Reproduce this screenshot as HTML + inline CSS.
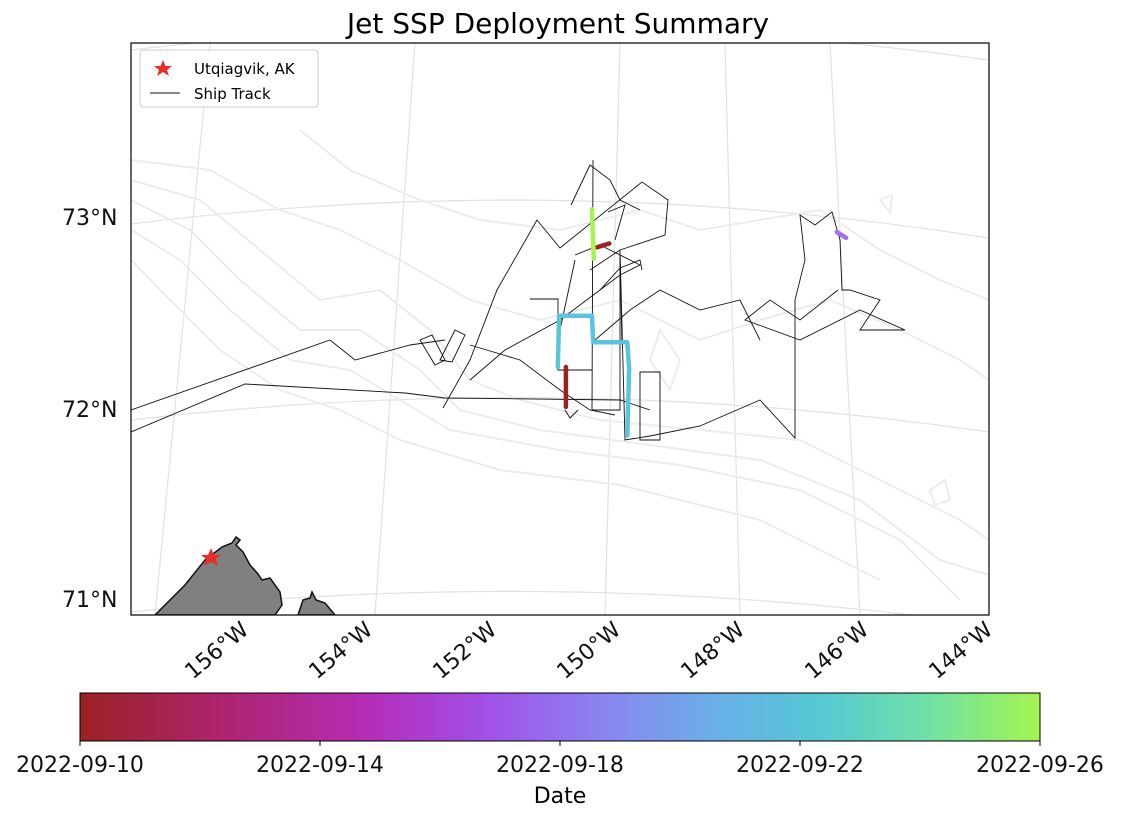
<!DOCTYPE html>
<html><head><meta charset="utf-8"><style>
body{margin:0;background:#fff;width:1121px;height:814px;overflow:hidden}
svg text{font-family:"DejaVu Sans","Liberation Sans",sans-serif}
</style></head><body>
<svg id="chart" width="1121" height="814" viewBox="0 0 1121 814">
<defs>
<clipPath id="clip"><rect x="131" y="43" width="858" height="572"/></clipPath>
<linearGradient id="cbar" x1="0" x2="1" y1="0" y2="0">
<stop offset="0" stop-color="#9a2222"/><stop offset="0.15" stop-color="#ae2470"/>
<stop offset="0.3" stop-color="#b52cb8"/><stop offset="0.42" stop-color="#a24fe8"/>
<stop offset="0.55" stop-color="#8a86f0"/><stop offset="0.66" stop-color="#6aaeea"/>
<stop offset="0.77" stop-color="#55c8d4"/><stop offset="0.88" stop-color="#6ee0a8"/>
<stop offset="1" stop-color="#a4f550"/></linearGradient>
</defs>
<text x="558" y="33" font-size="28" text-anchor="middle">Jet SSP Deployment Summary</text>
<g clip-path="url(#clip)">
<g fill="none" stroke="#e2e2e2" stroke-width="1.2">
<path d="M131,224 Q560,170 989,238"/><path d="M131,420 Q560,370 989,432"/><path d="M131,612 Q560,565 989,625"/><path d="M131,50 Q560,0 989,60"/>
<path d="M155,615 L210,43"/><path d="M375,615 L415,43"/><path d="M605,615 L620,43"/><path d="M740,615 L725,43"/><path d="M860,615 L830,43"/>
</g>
<g fill="none" stroke="#ececec" stroke-width="2">
<path d="M131,180 L200,200 L260,250 L320,300 L380,290 L430,330 L470,380 L520,400 L600,420 L700,430 L800,440 L880,480 L960,520 L989,540"/>
<path d="M131,200 L190,230 L240,280 L300,330 L360,330 L420,370 L460,410 L540,430 L650,445 L760,460 L860,500 L940,560 L989,575"/>
<path d="M131,230 L180,260 L230,310 L290,360 L350,370 L400,400 L450,430 L560,450 L680,465 L800,490 L900,540 L960,600"/>
<path d="M131,260 L170,300 L220,350 L280,390 L340,410 L400,440 L500,470 L620,485 L760,520 L880,580"/>
<path d="M131,160 L210,170 L280,210 L340,230 L400,260 L470,300 L540,320 L620,300 L700,340 L760,320 L830,300 L900,330 L960,360 L989,380"/>
<path d="M300,130 L350,170 L420,200 L480,220 L560,230 L640,210 L700,230 L760,220 L820,210 L880,250 L940,280 L989,300"/>
<path d="M660,330 L680,360 L670,390 L650,360 Z"/><path d="M930,490 L945,480 L950,500 L935,505 Z"/>
<path d="M880,200 L892,195 L890,212 Z"/>
</g>
<path d="M155,615 L185,585 L205,560 L222,547 L232,543 L236,537 L240,540 L236,545 L243,552 L250,565 L258,574 L262,580 L270,578 L280,592 L282,605 L275,615 Z" fill="#808080" stroke="#111" stroke-width="1.5"/>
<path d="M298,615 L303,600 L310,598 L312,592 L316,600 L325,603 L335,615 Z" fill="#808080" stroke="#111" stroke-width="1.5"/>
<g fill="none" stroke="#111" stroke-width="0.9">
<path d="M131,410 L330,340 L355,360 L410,345 L445,340"/>
<path d="M131,432 L245,384 L405,393 L445,398 L620,400 L650,410"/>
<path d="M443,408 L470,360 L497,290 L537,220 L560,248 L642,182 L668,200 L665,235 L620,250 L590,270"/>
<path d="M593,160 L592,410 L620,410 L620,250 L625,440 L650,436 L700,426 L760,400 L795,438 L795,300 L805,260 L800,215 L815,225 L832,212 L840,240 L842,290 L850,290 L880,300 L860,330 L905,330 L860,310 L800,340 L745,320 L770,300 L800,320 L838,290"/>
<path d="M571,205 L590,165 L610,180 L620,200 L640,210"/>
<path d="M470,380 L505,350 L560,320 L600,290 L620,268 L640,260 L642,270"/>
<path d="M530,299 L558,299 L558,370 L592,370"/>
<path d="M470,345 L520,360 L560,390 L590,410 L615,415"/>
<path d="M420,340 L435,365 L445,360 L432,335 Z"/><path d="M440,360 L455,330 L465,335 L452,362 Z"/>
<path d="M640,372 L660,372 L660,440 L640,440 Z"/>
<path d="M595,340 L630,310 L660,290 L700,310 L740,300 L760,340"/>
<path d="M565,410 L570,418 L578,410"/>
<path d="M608,212 L625,205 L615,240"/>
<path d="M575,255 L600,245 L640,265 L620,275 L600,290 M620,255 L622,345 M560,330 L575,260"/>
</g>
<g id="deploy"></g>
<path d="M211,548 L214,555 L221,555 L216,559 L218,566 L211,562 L204,566 L206,559 L201,555 L208,555 Z" fill="#e8302a"/>
</g>
<rect x="131" y="43" width="858" height="572" fill="none" stroke="#000" stroke-width="1.2"/>
<g>
<rect x="140" y="50" width="178" height="57" rx="3" fill="#fff" fill-opacity="0.85" stroke="#ccc"/>
<path d="M163,60 L165.5,66 L172,66 L167,70 L169,76 L163,72 L157,76 L159,70 L154,66 L160.5,66 Z" fill="#e8302a"/>
<text x="194" y="74" font-size="15">Utqiagvik, AK</text>
<line x1="150" y1="93" x2="180" y2="93" stroke="#111" stroke-width="1"/>
<text x="194" y="99" font-size="15">Ship Track</text>
</g>
<g font-size="22" fill="#111">
<text x="62" y="225">73°N</text><text x="62" y="417">72°N</text><text x="62" y="607">71°N</text>
</g>
<g id="lonlabels" font-size="22" fill="#111"></g>
<rect x="80" y="693" width="960" height="48" fill="url(#cbar)" stroke="#000" stroke-width="1"/>
<g id="cbticks" font-size="22" fill="#111" text-anchor="middle"></g>
<text x="560" y="803" font-size="22" text-anchor="middle">Date</text>
</svg>
<script>
const lonTicks=["156°W","154°W","152°W","150°W","148°W","146°W","144°W"];
const lonTickX=[-156,-154,-152,-150,-148,-146,-144];
const dateTicks=["2022-09-10","2022-09-14","2022-09-18","2022-09-22","2022-09-26"];
const dateTickDay=[10,14,18,22,26];
// deployments: lon/lat points and day-of-month
const depGreenLon=[-150.13,-150.1]; const depGreenLat=[73.03,72.77]; const depGreenDay=26;
const depRed1Lon=[-150.05,-149.85]; const depRed1Lat=[72.83,72.85]; const depRed1Day=10;
const depCyanLon=[-150.68,-150.66,-150.13,-150.11,-149.56,-149.53,-149.56]; const depCyanLat=[72.2,72.47,72.47,72.33,72.33,72.19,71.84]; const depCyanDay=22;
const depRed2Lon=[-150.55,-150.55]; const depRed2Lat=[72.2,71.99]; const depRed2Day=10.3;
const depPurpleLon=[-146.18,-146.03]; const depPurpleLat=[72.91,72.88]; const depPurpleDay=17.2;
function px(lon){return 600+(lon+150)*62;}
function py(lat){return 405-(lat-72)*190;}
function cx(day){return 80+(day-10)/16*960;}
const colors=[[0,"#9a2222"],[0.3,"#b52cb8"],[0.42,"#a46ef0"],[0.66,"#6aaeea"],[0.75,"#5ac4dc"],[1,"#a4f550"]];
function col(day){const t=(day-10)/16;let c=colors[0][1];for(const s of colors){if(t>=s[0]-1e-6)c=s[1];}return c;}
const ns="http://www.w3.org/2000/svg";
const g=document.getElementById('deploy');
const deps=[[depRed2Lon,depRed2Lat,depRed2Day],[depRed1Lon,depRed1Lat,depRed1Day],[depCyanLon,depCyanLat,depCyanDay],[depGreenLon,depGreenLat,depGreenDay],[depPurpleLon,depPurpleLat,depPurpleDay]];
deps.forEach((d,i)=>{const p=document.createElementNS(ns,'polyline');
p.setAttribute('points',d[0].map((l,j)=>px(l)+','+py(d[1][j])).join(' '));
p.setAttribute('fill','none');p.setAttribute('stroke',col(d[2]));p.setAttribute('stroke-width','4.5');p.setAttribute('stroke-linejoin','round');p.setAttribute('stroke-linecap','round');


g.appendChild(p);});
const ll=document.getElementById('lonlabels');
lonTicks.forEach((t,i)=>{const x=px(lonTickX[i])+22;const e=document.createElementNS(ns,'text');
e.setAttribute('transform','translate('+x+',632) rotate(-40)');e.setAttribute('text-anchor','end');e.textContent=t;


ll.appendChild(e);});
const cb=document.getElementById('cbticks');
dateTicks.forEach((t,i)=>{const x=cx(dateTickDay[i]);
const l=document.createElementNS(ns,'line');l.setAttribute('x1',x);l.setAttribute('x2',x);l.setAttribute('y1',741);l.setAttribute('y2',746);l.setAttribute('stroke','#000');


cb.appendChild(l);
const e=document.createElementNS(ns,'text');e.setAttribute('x',x);e.setAttribute('y',772);e.textContent=t;


cb.appendChild(e);});
</script>
</body></html>
